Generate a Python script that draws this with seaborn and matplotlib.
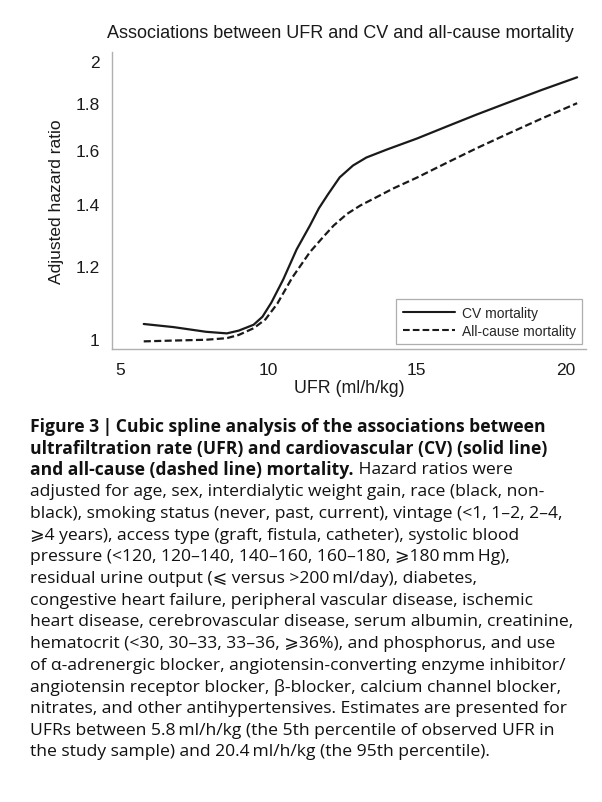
import numpy as np
import pandas as pd
import seaborn as sns
import matplotlib.pyplot as plt
from matplotlib.lines import Line2D

# values (UFR in ml/h/kg, adjusted HR)
ufr_cv = [5.8, 6.8, 7.9, 8.6, 9.0, 9.5, 9.8, 10.1, 10.5, 10.95, 11.4, 11.7, 12.0, 12.4, 12.85,
          13.3, 14.0, 15.0, 16.0, 17.0, 18.0, 19.2, 20.4]
hr_cv = [1.038, 1.030, 1.018, 1.014, 1.021, 1.036, 1.057, 1.095, 1.160, 1.250, 1.327, 1.385,
         1.433, 1.496, 1.541, 1.572, 1.604, 1.648, 1.698, 1.749, 1.799, 1.860, 1.92]

ufr_all = [5.8, 6.8, 7.9, 8.6, 9.0, 9.5, 9.9, 10.3, 10.8, 11.4, 11.85, 12.2, 12.65, 13.1, 13.55,
           14.2, 15.0, 16.0, 17.0, 18.0, 19.2, 20.4]
hr_all = [0.994, 0.996, 0.998, 1.002, 1.010, 1.027, 1.050, 1.092, 1.165, 1.242, 1.290, 1.327,
          1.366, 1.395, 1.419, 1.455, 1.495, 1.551, 1.608, 1.664, 1.732, 1.80]

y_ticks = [1, 1.2, 1.4, 1.6, 1.8, 2]
y_labels = ["1", "1.2", "1.4", "1.6", "1.8", "2"]
x_ticks = [5, 10, 15, 20]

df_cv = pd.DataFrame({"ufr": ufr_cv, "hr": hr_cv})
df_all = pd.DataFrame({"ufr": ufr_all, "hr": hr_all})

sns.set_style("white")
plt.rcParams['font.family'] = ['Liberation Sans', 'DejaVu Sans']

fig = plt.figure(figsize=(6.02, 8.03), dpi=100)
ax = fig.add_axes([0.186, 0.564, 0.787, 0.370])

ink = "#1a1a1a"
grey = "#9a9a9a"
dash = (0, (3.2, 1.5))
sns.lineplot(data=df_cv, x="ufr", y="hr", ax=ax, color=ink, linewidth=1.6)
sns.lineplot(data=df_all, x="ufr", y="hr", ax=ax, color=ink, linewidth=1.6, linestyle=dash)

ax.set_yscale("log")
ax.set_ylim(0.975, 2.045)
ax.set_xlim(4.73, 20.69)
ax.set_yticks(y_ticks)
ax.set_yticklabels(y_labels)
ax.minorticks_off()
ax.set_xticks(x_ticks)
ax.tick_params(axis="both", direction="out", length=5, width=0.8, color=grey,
               labelsize=12.5, labelcolor=ink, pad=4)
for s in ["top", "right"]:
    ax.spines[s].set_visible(False)
for s in ["left", "bottom"]:
    ax.spines[s].set_color("#b0b0b0")
    ax.spines[s].set_linewidth(1.0)

ax.set_xlabel("UFR (ml/h/kg)", fontsize=12.8, color=ink, labelpad=2)
ax.set_ylabel("Adjusted hazard ratio", fontsize=12.5, color=ink, labelpad=8)
ax.set_title("Associations between UFR and CV and all-cause mortality",
             fontsize=13, color=ink, pad=11, x=0.483)

handles = [Line2D([], [], color=ink, lw=1.5),
           Line2D([], [], color=ink, lw=1.5, linestyle=dash)]
leg = ax.legend(handles, ["CV mortality", "All-cause mortality"], loc="lower right",
                bbox_to_anchor=(0.992, 0.017), frameon=True, fancybox=False,
                fontsize=10, handlelength=3.8, handletextpad=0.45, borderpad=0.45,
                labelspacing=0.3, edgecolor=grey, borderaxespad=0)
leg.get_frame().set_linewidth(0.9)

# caption below the chart
cap_font = ['Open Sans', 'DejaVu Sans']
bold_lines = [
    "Figure 3\u2009|\u2009Cubic spline analysis of the associations between",
    "ultrafiltration rate (UFR) and cardiovascular (CV) (solid line)",
]
line3_bold = "and all-cause (dashed line) mortality."
line3_reg = " Hazard ratios were"
reg_lines = [
    "adjusted for age, sex, interdialytic weight gain, race (black, non-",
    "black), smoking status (never, past, current), vintage (<1, 1\u20132, 2\u20134,",
    "\u2a7e4 years), access type (graft, fistula, catheter), systolic blood",
    "pressure (<120, 120\u2013140, 140\u2013160, 160\u2013180, \u2a7e180\u2009mm\u2009Hg),",
    "residual urine output (\u2a7d versus >200\u2009ml/day), diabetes,",
    "congestive heart failure, peripheral vascular disease, ischemic",
    "heart disease, cerebrovascular disease, serum albumin, creatinine,",
    "hematocrit (<30, 30\u201333, 33\u201336, \u2a7e36%), and phosphorus, and use",
    "of \u03b1-adrenergic blocker, angiotensin-converting enzyme inhibitor/",
    "angiotensin receptor blocker, \u03b2-blocker, calcium channel blocker,",
    "nitrates, and other antihypertensives. Estimates are presented for",
    "UFRs between 5.8\u2009ml/h/kg (the 5th percentile of observed UFR in",
    "the study sample) and 20.4\u2009ml/h/kg (the 95th percentile).",
]

x0 = 30 / 602
y_first = 1 - 427 / 803
step = 21.7 / 803
fs = 12.6
col = "#111111"
for i, t in enumerate(bold_lines):
    fig.text(x0, y_first - i * step, t, fontsize=fs, fontweight="bold",
             family=cap_font, va="center", color=col)
t3 = fig.text(x0, y_first - 2 * step, line3_bold, fontsize=fs, fontweight="bold",
              family=cap_font, va="center", color=col)
fig.canvas.draw()
bb = t3.get_window_extent()
fig.text(bb.x1 / fig.bbox.width, y_first - 2 * step, line3_reg, fontsize=fs,
         family=cap_font, va="center", color=col)
for i, t in enumerate(reg_lines):
    fig.text(x0, y_first - (i + 3) * step, t, fontsize=fs, family=cap_font,
             va="center", color=col)

fig.savefig("out.png", dpi=100)
